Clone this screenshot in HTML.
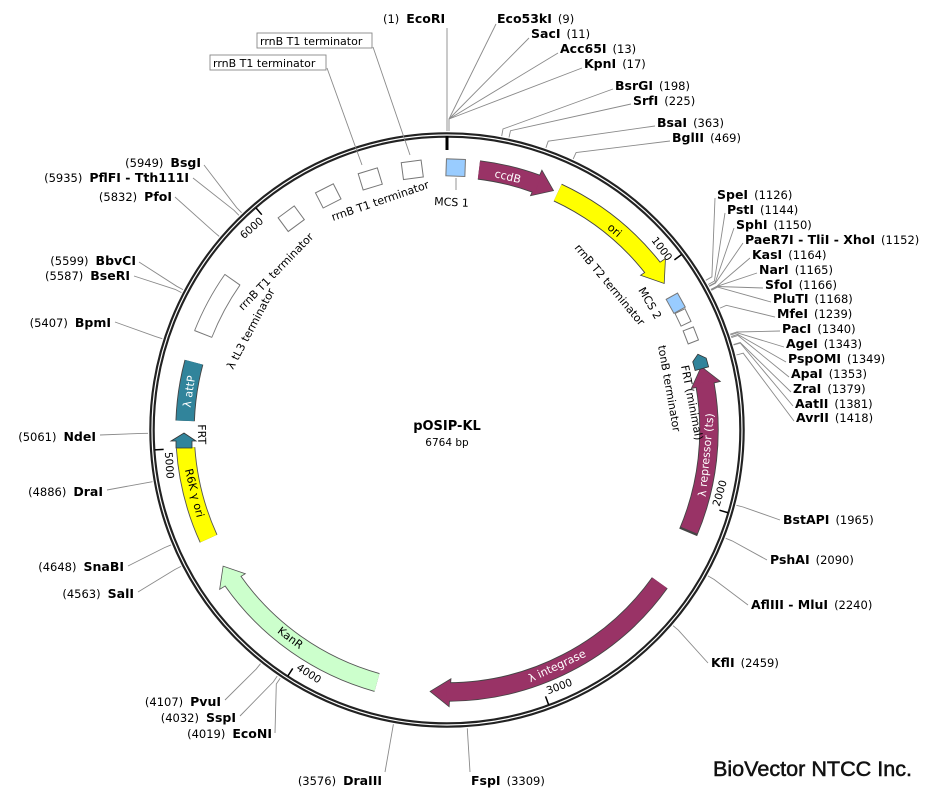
<!DOCTYPE html>
<html><head><meta charset="utf-8"><style>
html,body{margin:0;padding:0;background:#fff;}
svg{display:block;font-family:"DejaVu Sans","Liberation Sans",sans-serif;}
.n{font-size:11.5px;fill:#000;}
.b{font-weight:bold;font-size:12.5px;}
.ln{stroke:#8a8a8a;stroke-width:0.9;fill:none;}
.fl{font-size:11px;}
.tk{font-size:10.5px;}
</style></head><body>
<svg width="929" height="798" viewBox="0 0 929 798" xmlns="http://www.w3.org/2000/svg">
<rect width="929" height="798" fill="#fff"/>

<circle cx="447" cy="430" r="295" fill="none" stroke="#222" stroke-width="5.5"/>
<circle cx="447" cy="430" r="295" fill="none" stroke="#fff" stroke-width="1.2"/>

<line x1="447" y1="136" x2="447" y2="150" stroke="#000" stroke-width="3"/>

<g stroke="#000" stroke-width="1.5">
<line x1="447" y1="137" x2="447" y2="146" transform="rotate(53.2 447 430)"/>
<line x1="447" y1="137" x2="447" y2="146" transform="rotate(106.4 447 430)"/>
<line x1="447" y1="137" x2="447" y2="146" transform="rotate(159.7 447 430)"/>
<line x1="447" y1="137" x2="447" y2="146" transform="rotate(212.9 447 430)"/>
<line x1="447" y1="137" x2="447" y2="146" transform="rotate(266.1 447 430)"/>
<line x1="447" y1="137" x2="447" y2="146" transform="rotate(319.3 447 430)"/>
</g>
<g class="tk">
<text text-anchor="end" transform="rotate(53.2 447 430) translate(444 153)">1000</text>
<text text-anchor="start" transform="rotate(106.4 447 430) translate(447 147) rotate(180) translate(3 0)">2000</text>
<text text-anchor="start" transform="rotate(159.7 447 430) translate(447 147) rotate(180) translate(3 0)">3000</text>
<text text-anchor="start" transform="rotate(212.9 447 430) translate(447 147) rotate(180) translate(3 0)">4000</text>
<text text-anchor="start" transform="rotate(266.1 447 430) translate(447 147) rotate(180) translate(3 0)">5000</text>
<text text-anchor="end" transform="rotate(319.3 447 430) translate(444 153)">6000</text>
</g>

<g fill="none">
<circle cx="447" cy="430" r="262" stroke="#777" stroke-width="19.4" stroke-dasharray="61.7 2000" transform="rotate(201.5 447 430)"/>
<circle cx="447" cy="430" r="262" stroke="#fff" stroke-width="17.6" stroke-dasharray="61.7 2000" transform="rotate(201.5 447 430)"/>
<circle cx="447" cy="430" r="262" stroke="#444" stroke-width="19.4" stroke-dasharray="59.9 2000" transform="rotate(-83 447 430)"/>
<circle cx="447" cy="430" r="262" stroke="#444" stroke-width="19.4" stroke-dasharray="123.5 2000" transform="rotate(-65 447 430)"/>
<circle cx="447" cy="430" r="262" stroke="#444" stroke-width="19.4" stroke-dasharray="150.9 2000" transform="rotate(-10 447 430)"/>
<circle cx="447" cy="430" r="262" stroke="#444" stroke-width="19.4" stroke-dasharray="247.4 2000" transform="rotate(35.7 447 430)"/>
<circle cx="447" cy="430" r="262" stroke="#555" stroke-width="19.4" stroke-dasharray="179.7 2000" transform="rotate(105.5 447 430)"/>
<circle cx="447" cy="430" r="262" stroke="#555" stroke-width="19.4" stroke-dasharray="94.2 2000" transform="rotate(155.5 447 430)"/>
<circle cx="447" cy="430" r="262" stroke="#444" stroke-width="19.4" stroke-dasharray="59.4 2000" transform="rotate(182 447 430)"/>
</g>
<g stroke="#777" stroke-width="1">
<line x1="447" y1="158.5" x2="447" y2="177.5" transform="rotate(291.5 447 430)"/>
<line x1="447" y1="158.5" x2="447" y2="177.5" transform="rotate(305 447 430)"/>
</g>
<g stroke="#444" stroke-width="0.8">
<polygon points="447,168 428,154 428,182" fill="#993366" transform="rotate(24 447 430)"/>
<polygon points="447,168 427,153 427,183" fill="#ffff00" transform="rotate(56 447 430)"/>
<polygon points="447,168 466,153 466,183" fill="#993366" transform="rotate(76 447 430)"/>
<polygon points="447,168 427,154 427,182" fill="#993366" transform="rotate(183.7 447 430)"/>
<polygon points="447,168 429,153 429,183" fill="#ccffcc" stroke="#555" transform="rotate(238.7 447 430)"/>
</g>
<g fill="none">
<circle cx="447" cy="430" r="262" stroke="#993366" stroke-width="17.6" stroke-dasharray="61 2000" transform="rotate(-83 447 430)"/>
<circle cx="447" cy="430" r="262" stroke="#ffff00" stroke-width="17.6" stroke-dasharray="125 2000" transform="rotate(-65 447 430)"/>
<circle cx="447" cy="430" r="262" stroke="#993366" stroke-width="17.6" stroke-dasharray="150.9 2000" transform="rotate(-10.5 447 430)"/>
<circle cx="447" cy="430" r="262" stroke="#993366" stroke-width="17.6" stroke-dasharray="248.5 2000" transform="rotate(35.7 447 430)"/>
<circle cx="447" cy="430" r="262" stroke="#ccffcc" stroke-width="17.6" stroke-dasharray="181 2000" transform="rotate(105.5 447 430)"/>
<circle cx="447" cy="430" r="262" stroke="#ffff00" stroke-width="17.6" stroke-dasharray="94.2 2000" transform="rotate(155.5 447 430)"/>
<circle cx="447" cy="430" r="262" stroke="#31849b" stroke-width="17.6" stroke-dasharray="59.4 2000" transform="rotate(182 447 430)"/>
</g>

<g stroke="#777" stroke-width="1" fill="#fff">
<rect x="437" y="159" width="20" height="17" transform="rotate(323.6 447 430)"/>
<rect x="437" y="159" width="20" height="17" transform="rotate(333.1 447 430)"/>
<rect x="437" y="159" width="20" height="17" transform="rotate(343 447 430)"/>
<rect x="437" y="159" width="20" height="17" transform="rotate(352.4 447 430)"/>
<rect x="437" y="159" width="19" height="17" fill="#99ccff" transform="rotate(2 447 430)"/>
<rect x="439" y="162" width="16" height="13" fill="#99ccff" transform="rotate(61 447 430)"/>
<rect x="440" y="163" width="14" height="11" transform="rotate(64.5 447 430)"/>
<rect x="440" y="163" width="14" height="11" transform="rotate(68.8 447 430)"/>
</g>
<polygon points="441,168 447,161 456,161 456,175 447,175" fill="#31849b" stroke="#333" stroke-width="0.8" transform="rotate(74.5 447 430)"/>
<polygon points="176,448 192,448 192,441 196,441 184,433 171,441 176,441" fill="#31849b" stroke="#333" stroke-width="0.8"/>

<g class="fl">
<text text-anchor="middle" fill="#fff" transform="rotate(13.5 447 430) translate(447 173)">ccdB</text>
<text text-anchor="middle" transform="rotate(40 447 430) translate(447 173)">ori</text>
<text text-anchor="middle" fill="#fff" transform="rotate(95.5 447 430) translate(447 166) rotate(180)">λ repressor (ts)</text>
<text text-anchor="middle" fill="#fff" transform="rotate(155 447 430) translate(447 166) rotate(180)">λ integrase</text>
<text text-anchor="middle" transform="rotate(217 447 430) translate(447 166) rotate(180)">KanR</text>
<text text-anchor="middle" transform="rotate(256 447 430) translate(447 166) rotate(180)">R6K γ ori</text>
<text text-anchor="middle" fill="#fff" transform="rotate(278.5 447 430) translate(447 173)">λ attP</text>
<text text-anchor="middle" transform="rotate(269 447 430) translate(447 181) rotate(180)">FRT</text>
<text transform="translate(681 366) rotate(79)">FRT (minimal)</text>
<text transform="translate(658 346) rotate(80)">tonB terminator</text>
<text transform="translate(574 248) rotate(50)">rrnB T2 terminator</text>
<text transform="translate(638 290) rotate(60)">MCS 2</text>
<text transform="translate(434 205) rotate(3)">MCS 1</text>
<text transform="translate(333 221) rotate(-19)">rrnB T1 terminator</text>
<text transform="translate(243 311) rotate(-46)">rrnB T1 terminator</text>
<text transform="translate(233 370) rotate(-62)">λ tL3 terminator</text>
</g>
<g class="ln">
<line x1="456" y1="178" x2="456" y2="190"/>
<line x1="373" y1="47" x2="410" y2="155"/>
<line x1="327" y1="68" x2="362" y2="165"/>
</g>
<rect x="257" y="33" width="115" height="15" fill="#fff" stroke="#888" stroke-width="0.9"/>
<text x="260" y="45" class="fl">rrnB T1 terminator</text>
<rect x="210" y="55" width="116" height="15" fill="#fff" stroke="#888" stroke-width="0.9"/>
<text x="213" y="67" class="fl">rrnB T1 terminator</text>

<text x="447" y="430" text-anchor="middle" font-weight="bold" font-size="13">pOSIP-KL</text>
<text x="447" y="446" text-anchor="middle" font-size="10.5">6764 bp</text>

<g class="ln">
<polyline points="449,131 449,119"/>
<polyline points="447,131 447,119"/>
<line x1="447" y1="28" x2="447" y2="119"/>
<line x1="496" y1="24" x2="449" y2="119"/>
<line x1="529" y1="38" x2="449" y2="119"/>
<line x1="558" y1="53" x2="449" y2="119"/>
<line x1="582" y1="68" x2="449" y2="119"/>
<polyline points="613,89 503,129 501.7,136"/>
<polyline points="631,104 510.5,130.7 509,137.5"/>
<polyline points="655,126 548.2,141.2 545.9,147.8"/>
<polyline points="670,141 576.1,152.6 573.2,158.9"/>
<polyline points="715,198 711.9,276.8 705.8,280.3"/>
<polyline points="725,213 714.4,281.1 708.2,284.5"/>
<polyline points="734,228 715.2,282.6 709,286"/>
<polyline points="743,243 715.4,283.1 709.3,286.4"/>
<polyline points="750,258 717.1,286.1 710.9,289.4"/>
<polyline points="757,273 717.2,286.3 711,289.6"/>
<polyline points="763,288 717.4,286.5 711.2,289.8"/>
<polyline points="771,302 717.6,287.1 711.4,290.4"/>
<polyline points="775,317 726.4,305.3 720,308.1"/>
<polyline points="780,331 736.9,332 730.2,334.2"/>
<polyline points="784,347 737.2,332.8 730.5,335"/>
<polyline points="786,362 737.7,334.4 731,336.6"/>
<polyline points="789,377 738,335.5 731.4,337.6"/>
<polyline points="791,392 740.2,342.5 733.5,344.5"/>
<polyline points="793,406 740.3,343.1 733.6,345"/>
<polyline points="794,421 743.2,353.2 736.4,355"/>
<polyline points="780,520 743.1,507 736.4,505.3"/>
<polyline points="767,560 732.2,540.9 725.7,538.3"/>
<polyline points="748,605 714,579.4 707.9,575.9"/>
<polyline points="708,663 678.4,630.2 673.1,625.7"/>
<polyline points="470,772 467.7,735.3 467.3,728.3"/>
<polyline points="385,772 392.2,731.1 393.4,724.2"/>
<polyline points="275,733 276.3,684 280.2,678.2"/>
<polyline points="240,716 273.3,681.9 277.2,676.1"/>
<polyline points="225,700 256.1,669.2 260.5,663.7"/>
<polyline points="138,592 174.7,569.6 181,566.4"/>
<polyline points="128,566 164.5,547.6 171,544.9"/>
<polyline points="107,490 145.6,482.9 152.5,481.7"/>
<polyline points="100,435 141,433.4 148,433.3"/>
<polyline points="115,322 155.6,336.6 162.3,338.7"/>
<polyline points="134,276 175.2,289.4 181.4,292.6"/>
<polyline points="139,262 176.8,286.3 183,289.6"/>
<polyline points="175,197 213.8,231.8 219.2,236.4"/>
<polyline points="193,178 234,210.3 238.9,215.3"/>
<polyline points="204,165 236.7,207.7 241.6,212.7"/>
</g>

<g class="n">
<text x="383" y="23">(1)<tspan class="b" dx="7">EcoRI</tspan></text>
<text x="497" y="23"><tspan class="b">Eco53kI</tspan><tspan dx="6">(9)</tspan></text>
<text x="531" y="38"><tspan class="b">SacI</tspan><tspan dx="6">(11)</tspan></text>
<text x="560" y="53"><tspan class="b">Acc65I</tspan><tspan dx="6">(13)</tspan></text>
<text x="584" y="68"><tspan class="b">KpnI</tspan><tspan dx="6">(17)</tspan></text>
<text x="615" y="90"><tspan class="b">BsrGI</tspan><tspan dx="6">(198)</tspan></text>
<text x="633" y="105"><tspan class="b">SrfI</tspan><tspan dx="6">(225)</tspan></text>
<text x="657" y="127"><tspan class="b">BsaI</tspan><tspan dx="6">(363)</tspan></text>
<text x="672" y="142"><tspan class="b">BglII</tspan><tspan dx="6">(469)</tspan></text>
<text x="717" y="199"><tspan class="b">SpeI</tspan><tspan dx="6">(1126)</tspan></text>
<text x="727" y="214"><tspan class="b">PstI</tspan><tspan dx="6">(1144)</tspan></text>
<text x="736" y="229"><tspan class="b">SphI</tspan><tspan dx="6">(1150)</tspan></text>
<text x="745" y="244"><tspan class="b">PaeR7I - TliI - XhoI</tspan><tspan dx="6">(1152)</tspan></text>
<text x="752" y="259"><tspan class="b">KasI</tspan><tspan dx="6">(1164)</tspan></text>
<text x="759" y="274"><tspan class="b">NarI</tspan><tspan dx="6">(1165)</tspan></text>
<text x="765" y="289"><tspan class="b">SfoI</tspan><tspan dx="6">(1166)</tspan></text>
<text x="773" y="303"><tspan class="b">PluTI</tspan><tspan dx="6">(1168)</tspan></text>
<text x="777" y="318"><tspan class="b">MfeI</tspan><tspan dx="6">(1239)</tspan></text>
<text x="782" y="333"><tspan class="b">PacI</tspan><tspan dx="6">(1340)</tspan></text>
<text x="786" y="348"><tspan class="b">AgeI</tspan><tspan dx="6">(1343)</tspan></text>
<text x="788" y="363"><tspan class="b">PspOMI</tspan><tspan dx="6">(1349)</tspan></text>
<text x="791" y="378"><tspan class="b">ApaI</tspan><tspan dx="6">(1353)</tspan></text>
<text x="793" y="393"><tspan class="b">ZraI</tspan><tspan dx="6">(1379)</tspan></text>
<text x="795" y="408"><tspan class="b">AatII</tspan><tspan dx="6">(1381)</tspan></text>
<text x="796" y="422"><tspan class="b">AvrII</tspan><tspan dx="6">(1418)</tspan></text>
<text x="783" y="524"><tspan class="b">BstAPI</tspan><tspan dx="6">(1965)</tspan></text>
<text x="770" y="564"><tspan class="b">PshAI</tspan><tspan dx="6">(2090)</tspan></text>
<text x="751" y="609"><tspan class="b">AflIII - MluI</tspan><tspan dx="6">(2240)</tspan></text>
<text x="711" y="667"><tspan class="b">KflI</tspan><tspan dx="6">(2459)</tspan></text>
<text x="471" y="785"><tspan class="b">FspI</tspan><tspan dx="6">(3309)</tspan></text>
</g>
<g class="n" text-anchor="end">
<text x="382" y="785">(3576)<tspan class="b" dx="7">DraIII</tspan></text>
<text x="272" y="738">(4019)<tspan class="b" dx="7">EcoNI</tspan></text>
<text x="236" y="722">(4032)<tspan class="b" dx="7">SspI</tspan></text>
<text x="221" y="706">(4107)<tspan class="b" dx="7">PvuI</tspan></text>
<text x="134" y="598">(4563)<tspan class="b" dx="7">SalI</tspan></text>
<text x="124" y="571">(4648)<tspan class="b" dx="7">SnaBI</tspan></text>
<text x="103" y="496">(4886)<tspan class="b" dx="7">DraI</tspan></text>
<text x="96" y="441">(5061)<tspan class="b" dx="7">NdeI</tspan></text>
<text x="111" y="327">(5407)<tspan class="b" dx="7">BpmI</tspan></text>
<text x="130" y="280">(5587)<tspan class="b" dx="7">BseRI</tspan></text>
<text x="136" y="265">(5599)<tspan class="b" dx="7">BbvCI</tspan></text>
<text x="172" y="201">(5832)<tspan class="b" dx="7">PfoI</tspan></text>
<text x="189" y="182">(5935)<tspan class="b" dx="7">PflFI - Tth111I</tspan></text>
<text x="201" y="167">(5949)<tspan class="b" dx="7">BsgI</tspan></text>
</g>

<text x="713" y="776" font-family="Liberation Sans, sans-serif" font-size="21" textLength="199" lengthAdjust="spacingAndGlyphs" fill="#111" stroke="#111" stroke-width="0.5">BioVector NTCC Inc.</text>
</svg>
</body></html>
